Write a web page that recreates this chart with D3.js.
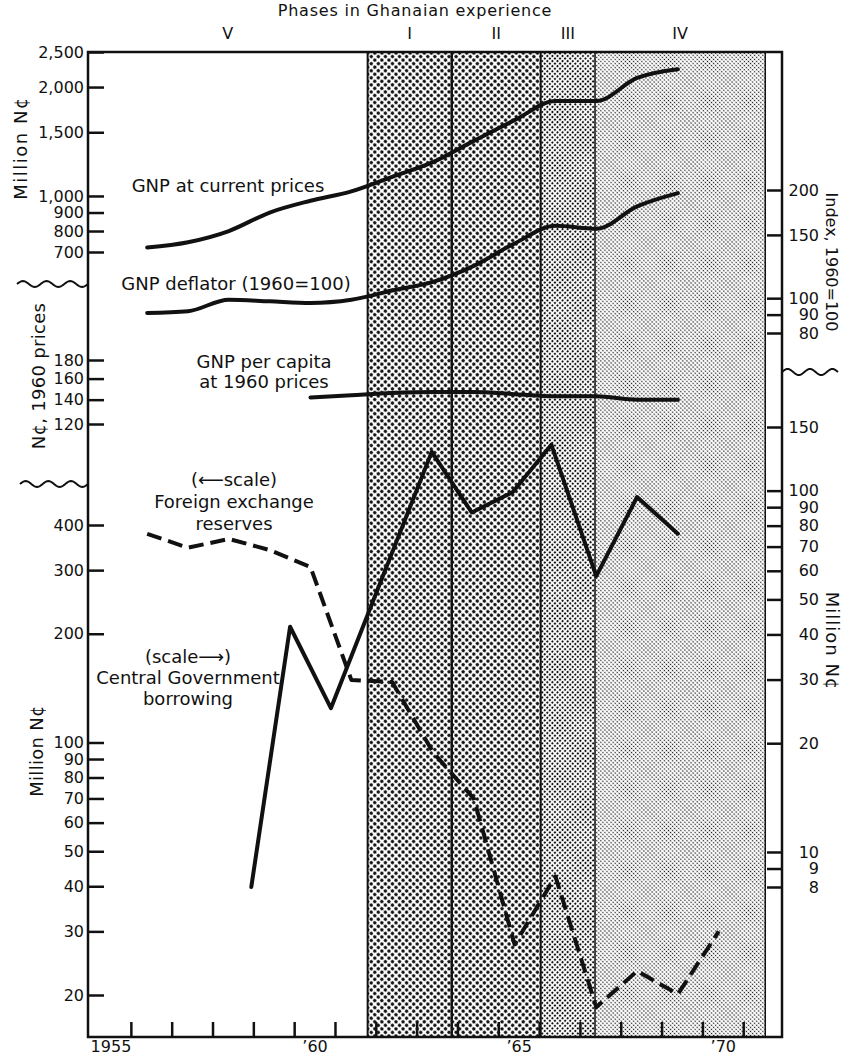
<!DOCTYPE html>
<html>
<head>
<meta charset="utf-8">
<script src="https://cdn.jsdelivr.net/npm/d3@7/dist/d3.min.js"></script>
<style>
  body { margin: 0; background: #fff; }
  svg text { font-family: "DejaVu Sans", sans-serif; fill: #111; }
  .tick line { stroke: #111; stroke-width: 2.5; }
  .tick text { font-size: 16px; }
</style>
</head>
<body>
<script>
// ---- values ----
// years are decimals: most series sit near the end of each calendar year
var gnpYears = [1955.9, 1956.9, 1957.9, 1958.9, 1959.9, 1960.9, 1961.9, 1962.9, 1963.9, 1964.9, 1965.9, 1966.9, 1967.9, 1968.9];
var gnpCurrent = [720, 745, 800, 900, 970, 1030, 1130, 1240, 1420, 1620, 1830, 1830, 2120, 2240];
var gnpDeflator = [91, 92, 99, 98, 97, 99, 105, 111, 123, 142, 159, 156, 180, 196];

var perCapitaYears = [1959.9, 1960.9, 1961.9, 1962.9, 1963.9, 1964.9, 1965.9, 1966.9, 1967.9, 1968.9];
var perCapita = [142, 144, 146, 147, 147, 145, 143, 143, 140, 140];

var reserveYears = [1955.9, 1956.9, 1957.9, 1958.9, 1959.9, 1960.9, 1961.9, 1962.9, 1963.9, 1964.9, 1965.9, 1966.9, 1967.9, 1968.9, 1969.9];
var reserves = [378, 346, 366, 341, 306, 149, 147, 94, 70, 27.6, 42.6, 18.5, 23.3, 20.1, 30];

var borrowYears = [1958.45, 1959.4, 1960.4, 1962.87, 1963.85, 1964.85, 1965.8, 1966.9, 1967.9, 1968.9];
var borrowing = [8, 42, 25, 128, 87, 99, 134, 58, 96, 76];

var phaseNames = ["V", "I", "II", "III", "IV"];
var phaseStart = [1954.45, 1961.3, 1963.36, 1965.54, 1966.87];
var phaseEnd = [1961.3, 1963.36, 1965.54, 1966.87, 1971.04];
var phaseShade = [null, "coarse", "coarse", "medium", "fine"];

var yearTicks = d3.range(1955.5, 1971, 1);
var yearLabelYears = [1955, 1960, 1965, 1970];
var yearLabels = ["1955", "\u201960", "\u201965", "\u201970"];

var gnpTicks = [700, 800, 900, 1000, 1500, 2000, 2500];
var perCapitaTicks = [120, 140, 160, 180];
var reserveTicks = [20, 30, 40, 50, 60, 70, 80, 90, 100, 200, 300, 400];
var indexTicks = [80, 90, 100, 150, 200];
var borrowTicks = [8, 9, 10, 20, 30, 40, 50, 60, 70, 80, 90, 100, 150];

// ---- layout ----
var svgWidth = 842, svgHeight = 1062;
var left = 88, right = 782, bottom = 1037;

var x = d3.scaleLinear().domain([1954.45, 1971.45]).range([left, right]);

// every segment is a log scale of the same slope, offset on the page
var yGnp = d3.scaleLog().domain([700, 2500]).range([252, 52]);
var yPerCapita = d3.scaleLog().domain([120, 180]).range([424, 360]);
var yReserves = d3.scaleLog().domain([20, 400]).range([995, 525]);
var yIndex = d3.scaleLog().domain([80, 200]).range([333, 190]);
var yBorrow = d3.scaleLog().domain([8, 150]).range([887, 427]);

var frameTop = yGnp(2500);

var svg = d3.select("body")
  .append("svg")
    .attr("width", svgWidth)
    .attr("height", svgHeight);

// halftone patterns for the phases
var defs = svg.append("defs");
function halftone(id, pitch, r) {
  var p = defs.append("pattern")
    .attr("id", id)
    .attr("patternUnits", "userSpaceOnUse")
    .attr("width", pitch)
    .attr("height", pitch)
    .attr("patternTransform", "rotate(45)");
  p.append("rect").attr("width", pitch).attr("height", pitch).attr("fill", "#fff");
  p.append("circle").attr("cx", pitch / 2).attr("cy", pitch / 2).attr("r", r).attr("fill", "#111");
}
halftone("coarse", 5, 1.75);
halftone("medium", 3.6, 1.1);
halftone("fine", 2.9, 0.78);

var phases = phaseNames.map(function(n, i) {
  return {name: n, start: phaseStart[i], end: phaseEnd[i], shade: phaseShade[i]};
});

// shaded phases
svg.selectAll(".phase")
  .data(phases.filter(function(d) { return d.shade; }))
  .enter()
  .append("rect")
    .attr("class", "phase")
    .attr("x", function(d) { return x(d.start); })
    .attr("y", frameTop)
    .attr("width", function(d) { return x(d.end) - x(d.start); })
    .attr("height", bottom - frameTop)
    .attr("fill", function(d) { return "url(#" + d.shade + ")"; });

// phase boundary lines
var bounds = phaseStart.slice(1).concat([phaseEnd[phaseEnd.length - 1]]);
var boundWidth = [2, 2.5, 2, 1.5, 1.5];
svg.selectAll(".bound")
  .data(bounds)
  .enter()
  .append("line")
    .attr("x1", function(d) { return x(d); })
    .attr("x2", function(d) { return x(d); })
    .attr("y1", frameTop)
    .attr("y2", bottom)
    .attr("stroke", "#111")
    .attr("stroke-width", function(d, i) { return boundWidth[i]; });

// phase numerals and title
svg.selectAll(".phase-name")
  .data(phases)
  .enter()
  .append("text")
    .attr("x", function(d) { return x((d.start + d.end) / 2); })
    .attr("y", 39)
    .attr("text-anchor", "middle")
    .style("font-size", "16px")
    .text(function(d) { return d.name; });

svg.append("text")
  .attr("x", 415)
  .attr("y", 16)
  .attr("text-anchor", "middle")
  .style("font-size", "16px")
  .style("letter-spacing", "0.8px")
  .text("Phases in Ghanaian experience");

// frame
svg.append("path")
  .attr("d", "M" + left + "," + bottom + "V" + frameTop + "H" + right + "V" + bottom + "Z")
  .attr("fill", "none")
  .attr("stroke", "#111")
  .attr("stroke-width", 2.5);

// left axes, ticks pointing inward
function leftAxis(scale, ticks, fmt) {
  svg.append("g")
    .attr("transform", "translate(" + left + ",0)")
    .call(d3.axisLeft(scale).tickValues(ticks).tickSize(-16).tickPadding(4).tickFormat(d3.format(fmt)))
    .call(function(g) { g.select(".domain").remove(); });
}
leftAxis(yGnp, gnpTicks, ",");
leftAxis(yPerCapita, perCapitaTicks, "d");
leftAxis(yReserves, reserveTicks, "d");

// right axes, labels right-aligned
function rightAxis(scale, ticks) {
  var g = svg.append("g")
    .attr("transform", "translate(" + right + ",0)")
    .call(d3.axisRight(scale).tickValues(ticks).tickSize(-15).tickFormat(d3.format("d")))
    .call(function(g) { g.select(".domain").remove(); });
  g.selectAll("text").attr("text-anchor", "end").attr("x", 37);
}
rightAxis(yIndex, indexTicks);
rightAxis(yBorrow, borrowTicks);

// bottom axis
svg.append("g")
  .attr("transform", "translate(0," + bottom + ")")
  .call(d3.axisBottom(x).tickValues(yearTicks).tickSize(-15).tickFormat(""))
  .call(function(g) { g.select(".domain").remove(); });

svg.append("g")
  .attr("transform", "translate(0," + bottom + ")")
  .call(d3.axisBottom(x).tickValues(yearLabelYears).tickSize(0).tickPadding(4)
    .tickFormat(function(d, i) { return yearLabels[i]; }))
  .call(function(g) { g.select(".domain").remove(); });

// scale breaks
function wave(x0, x1, y, humps) {
  var pts = d3.range(0, 61).map(function(i) {
    var t = i / 60;
    return [x0 + t * (x1 - x0), y - 3 * Math.sin(t * humps * 2 * Math.PI)];
  });
  svg.append("path")
    .attr("d", d3.line()(pts))
    .attr("fill", "none")
    .attr("stroke", "#111")
    .attr("stroke-width", 2);
}
wave(17, left, 284, 3);
wave(20, left, 484, 3);
wave(right, 838, 372, 2.5);

// axis titles
function title(txt, tx, ty, rot, size, spacing) {
  svg.append("text")
    .attr("transform", "translate(" + tx + "," + ty + ") rotate(" + rot + ")")
    .attr("text-anchor", "middle")
    .style("font-size", size + "px")
    .style("letter-spacing", spacing + "px")
    .text(txt);
}
title("Million N\u00A2", 27, 148, -90, 18, 1.5);
title("N\u00A2, 1960 prices", 45, 376, -90, 18, 0.3);
title("Million N\u00A2", 43, 751, -90, 18, 0.3);
title("Index, 1960=100", 826, 262, 90, 16, 0);
title("Million N\u00A2", 826, 641, 90, 18, 1);

// data lines
function drawLine(years, values, scale, curve, dash) {
  var line = d3.line()
    .x(function(d) { return x(d[0]); })
    .y(function(d) { return scale(d[1]); })
    .curve(curve);
  svg.append("path")
    .datum(d3.zip(years, values))
    .attr("d", line)
    .attr("fill", "none")
    .attr("stroke", "#111")
    .attr("stroke-width", 4)
    .attr("stroke-linecap", dash ? "butt" : "round")
    .attr("stroke-linejoin", "round")
    .attr("stroke-dasharray", dash || null);
}
drawLine(gnpYears, gnpCurrent, yGnp, d3.curveMonotoneX);
drawLine(gnpYears, gnpDeflator, yIndex, d3.curveMonotoneX);
drawLine(perCapitaYears, perCapita, yPerCapita, d3.curveMonotoneX);
drawLine(reserveYears, reserves, yReserves, d3.curveLinear, "15,7");
drawLine(borrowYears, borrowing, yBorrow, d3.curveLinear);

// labels on the series
function note(lines, cx, y0, gap) {
  svg.append("text")
    .attr("text-anchor", "middle")
    .style("font-size", "18px")
    .selectAll("tspan")
    .data(lines)
    .enter()
    .append("tspan")
      .attr("x", cx)
      .attr("y", function(d, i) { return y0 + i * gap; })
      .text(function(d) { return d; });
}
note(["GNP at current prices"], 228, 192, 0);
note(["GNP deflator (1960=100)"], 236, 290, 0);
note(["GNP per capita", "at 1960 prices"], 264, 368, 20);
note(["(\u27F5scale)", "Foreign exchange", "reserves"], 234, 486, 22);
note(["(scale\u27F6)", "Central Government", "borrowing"], 188, 663, 21);
</script>
</body>
</html>
